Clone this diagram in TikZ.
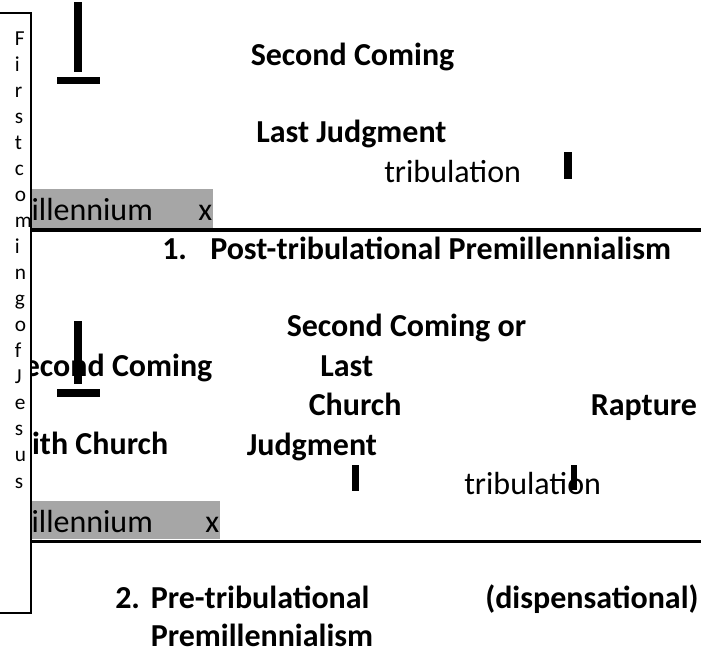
\documentclass[tikz,border=0pt]{standalone}
\usepackage{fontspec}
\setmainfont{Carlito}
\definecolor{millgray}{HTML}{A6A6A6}
\tikzset{
  boldlbl/.style={anchor=base west, inner sep=0pt, font=\fontsize{24}{29}\selectfont\bfseries},
  plainlbl/.style={anchor=base west, inner sep=0pt, font=\fontsize{24}{29}\selectfont},
  vlet/.style={anchor=base west, inner sep=0pt, font=\fontsize{16}{19.5}\selectfont},
  barshape/.style={fill=black, draw=none},
  band/.style={fill=millgray, draw=none},
  rulestyle/.style={line width=2.6pt},
  sidebox/.style={fill=white, draw=black, line width=1.5pt}
}
\begin{document}
\begin{tikzpicture}[x=0.75pt,y=-0.75pt]
\useasboundingbox (0,0) rectangle (701,654);

% grey millennium bands
\fill[band] (30,189) rectangle (213,228);
\fill[band] (30,501) rectangle (220,539);

% --- section 1 ---
\node[boldlbl] (sc1) at (250.5,65) {Second Coming};
\node[boldlbl] (lj1) at (256,142) {Last Judgment};
\node[plainlbl] (tr1) at (384,182) {tribulation};
\node[plainlbl] (mil1) at (4,220.5) {Millennium};
\node[plainlbl] (x1) at (198,220.5) {x};
\node[boldlbl] (n1) at (162,259) {1.};
\node[boldlbl] (t1) at (210,259) {Post-tribulational Premillennialism};

% --- section 2 ---
\node[boldlbl] (sc2) at (8.5,376) {Second Coming};
\node[boldlbl] (wc2) at (8,454) {with Church};
\node[boldlbl] (sco) at (286.5,336) {Second Coming or};
\node[boldlbl] (last) at (320,376) {Last};
\node[boldlbl] (church) at (308.5,415.5) {Church};
\node[boldlbl] (rapt) at (590.5,415.5) {Rapture};
\node[boldlbl] (judg) at (246.5,455) {Judgment};
\node[plainlbl] (tr2) at (464,494) {tribulation};
\node[plainlbl] (mil2) at (4,532) {Millennium};
\node[plainlbl] (x2) at (205,532) {x};
\node[boldlbl] (n2) at (115,608) {2.};
\node[boldlbl] (t2a) at (150.5,608) {Pre-tribulational};
\node[boldlbl] (t2b) at (150.5,646) {Premillennialism};
\node[boldlbl] (disp) at (485,608) {(dispensational)};

% bars and T marks
\fill[barshape] (74,2) rectangle (82,72);
\fill[barshape] (57,77) rectangle (100,84);
\fill[barshape] (564,152) rectangle (572,179);
\fill[barshape] (74,321) rectangle (82,384);
\fill[barshape] (57,389) rectangle (100,397);
\fill[barshape] (352,465) rectangle (359,491);
\fill[barshape] (571,465) rectangle (577,490);

% timeline rules
\coordinate (r1a) at (30,230);
\coordinate (r1b) at (702,230);
\coordinate (r2a) at (30,541.5);
\coordinate (r2b) at (702,541.5);
\draw[rulestyle] (r1a) -- (r1b);
\draw[rulestyle] (r2a) -- (r2b);

% side box: First coming of Jesus
\draw[sidebox] (-5,13) rectangle (30.5,613);
\foreach \c [count=\k] in {F,i,r,s,t,c,o,m,i,n,g,o,f,J,e,s,u,s}
  \node[vlet] (v\k) at (14.5,{45+26.06*(\k-1)}) {\c};
\end{tikzpicture}
\end{document}
